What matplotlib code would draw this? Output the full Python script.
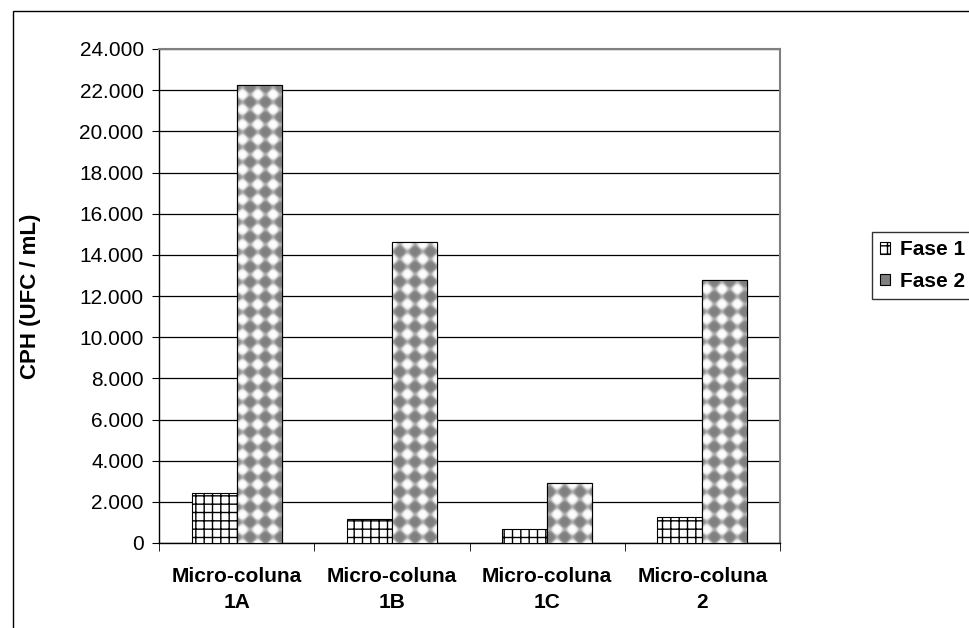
import numpy as np
import matplotlib
matplotlib.use('Agg')
import matplotlib.pyplot as plt
from matplotlib.patches import Rectangle

# dados
colunas = ['Micro-coluna\n1A', 'Micro-coluna\n1B', 'Micro-coluna\n1C', 'Micro-coluna\n2']
fase1 = [2420, 1150, 680, 1250]
fase2 = [22250, 14600, 2900, 12800]
yticks = np.arange(0, 24001, 2000)

plt.rcParams['font.family'] = ['Liberation Sans', 'DejaVu Sans']
plt.rcParams['hatch.linewidth'] = 1.0

fig = plt.figure(figsize=(9.69, 6.28), dpi=100)
ax = fig.add_axes([159/969, 1-543/628, (780-159)/969, (543-49)/628])

x = np.arange(len(colunas))
w = 0.29
b1 = ax.bar(x - w/2, fase1, w, color='white', edgecolor='black', hatch='++',
            lw=0.8, label='Fase 1', zorder=3)
b2 = ax.bar(x + w/2, fase2, w, color='#808080', edgecolor='black',
            lw=0.8, label='Fase 2', zorder=3)

# textura de losangos (cinza/branco) para a Fase 2
ny, nx = 494, 621
yy, xx = np.mgrid[0:ny, 0:nx]
s = 15.0
u = (xx + yy) / s * np.pi
v = (xx - yy) / s * np.pi
c = np.tanh(3 * (np.sin(u) * np.sin(v) - 0.1))
g = 0.5 + 0.25 * (1 + c)
textura = np.dstack([g, g, g])
for barra in b2:
    im = ax.imshow(textura, extent=(-0.5, 3.5, 0, 24000), aspect='auto',
                   interpolation='bilinear', zorder=3.5)
    im.set_clip_path(barra)
ax.bar(x + w/2, fase2, w, fill=False, edgecolor='black', lw=0.8, zorder=4)

ax.set_xlim(-0.5, 3.5)
ax.set_ylim(0, 24000)
ax.set_aspect('auto')

ax.set_yticks(yticks)
ax.set_yticklabels([f'{t:,}'.replace(',', '.') for t in yticks], fontsize=15)
ax.yaxis.grid(True, color='black', lw=0.9)
ax.set_axisbelow(True)
ax.tick_params(axis='y', length=5, direction='out', pad=6)

ax.set_xticks(x)
ax.set_xticklabels(colunas, fontweight='bold', fontsize=15, linespacing=1.5)
ax.tick_params(axis='x', which='major', length=0, pad=17)
ax.set_xticks(np.arange(-0.5, 4, 1), minor=True)
ax.tick_params(axis='x', which='minor', length=6, direction='out')

for lado in ['top', 'right']:
    ax.spines[lado].set_color('#808080')
    ax.spines[lado].set_linewidth(1.5)
for lado in ['left', 'bottom']:
    ax.spines[lado].set_color('black')
    ax.spines[lado].set_linewidth(1.0)

ax.set_ylabel('CPH (UFC / mL)', fontweight='bold', fontsize=16)
ax.yaxis.set_label_coords(-0.19, 0.5)

leg = fig.legend(handles=[b1, b2], loc='upper left',
                 bbox_to_anchor=(872/969, 1-232/628),
                 prop={'weight': 'bold', 'size': 15}, frameon=True,
                 fancybox=False, edgecolor='black', handlelength=0.45,
                 handleheight=0.45, handletextpad=0.5, labelspacing=0.6,
                 borderpad=0.4, borderaxespad=0)
leg.get_frame().set_linewidth(1.0)

# moldura externa do gráfico
fig.patches.append(Rectangle((13/969, -0.5), 2, 1 - 11/628 + 0.5,
                             transform=fig.transFigure, fill=False,
                             edgecolor='black', lw=1.0))

fig.savefig('out.png', dpi=100)
